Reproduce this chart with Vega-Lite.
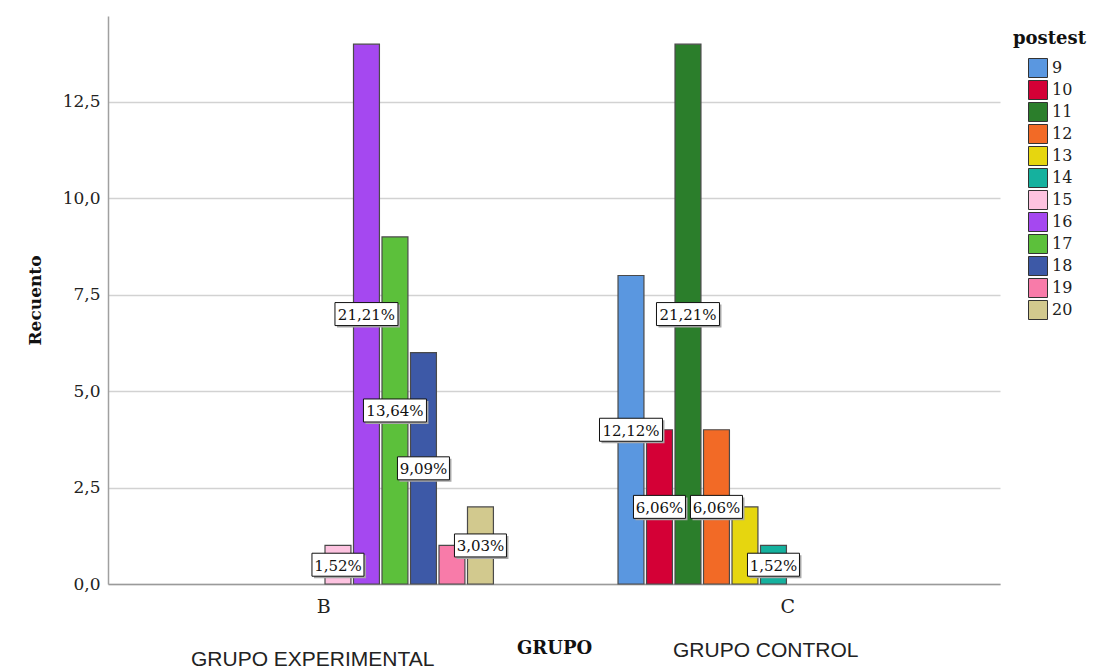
{
  "$schema": "https://vega.github.io/schema/vega-lite/v6.json",
  "width": 892,
  "height": 568,
  "autosize": {"type": "none"},
  "padding": {"left": 108, "top": 16, "right": 96, "bottom": 88},
  "background": "white",
  "config": {"view": {"stroke": null}, "font": "DejaVu Serif"},
  "datasets": {
    "counts": [
      {"GRUPO": "B", "postest": 15, "count": 1, "pct": "1,52%"},
      {"GRUPO": "B", "postest": 16, "count": 14, "pct": "21,21%"},
      {"GRUPO": "B", "postest": 17, "count": 9, "pct": "13,64%"},
      {"GRUPO": "B", "postest": 18, "count": 6, "pct": "9,09%"},
      {"GRUPO": "B", "postest": 19, "count": 1, "pct": null},
      {"GRUPO": "B", "postest": 20, "count": 2, "pct": "3,03%"},
      {"GRUPO": "C", "postest": 9, "count": 8, "pct": "12,12%"},
      {"GRUPO": "C", "postest": 10, "count": 4, "pct": "6,06%"},
      {"GRUPO": "C", "postest": 11, "count": 14, "pct": "21,21%"},
      {"GRUPO": "C", "postest": 12, "count": 4, "pct": "6,06%"},
      {"GRUPO": "C", "postest": 13, "count": 2, "pct": null},
      {"GRUPO": "C", "postest": 14, "count": 1, "pct": "1,52%"}
    ],
    "groups": [{"GRUPO": "B"}, {"GRUPO": "C"}]
  },
  "layer": [
    {
      "data": {"name": "counts"},
      "encoding": {
        "x": {
          "field": "GRUPO", "type": "nominal",
          "scale": {"type": "band", "domain": ["B", "C"], "paddingInner": 0.263, "paddingOuter": 0.0927, "align": 0.52},
          "axis": {
            "orient": "bottom", "labelAngle": 0, "ticks": false, "grid": false,
            "domainColor": "#9a9a9a", "domainWidth": 1.5,
            "labelFont": "DejaVu Serif", "labelFontSize": 19, "labelColor": "#222222", "labelPadding": 13,
            "title": "GRUPO", "titleFont": "DejaVu Serif", "titleFontWeight": "bold", "titleFontSize": 18,
            "titleColor": "#111111", "titlePadding": 23
          }
        },
        "xOffset": {
          "field": "postest", "type": "nominal",
          "scale": {"domain": [9, 10, 11, 12, 13, 14, 15, 16, 17, 18, 19, 20], "paddingInner": 0.09, "paddingOuter": 0.045}
        },
        "y": {
          "field": "count", "type": "quantitative", "title": "Recuento",
          "scale": {"domain": [0, 14.73], "nice": false, "zero": true},
          "axis": {
            "values": [0, 2.5, 5, 7.5, 10, 12.5],
            "labelExpr": "replace(format(datum.value, '.1f'), '.', ',')",
            "ticks": false, "grid": true, "gridColor": "#d2d2d2", "gridWidth": 1.5,
            "domainColor": "#a0a0a0", "domainWidth": 1.5,
            "labelFont": "DejaVu Serif", "labelFontSize": 17, "labelColor": "#222222", "labelPadding": 8,
            "titleFont": "DejaVu Serif", "titleFontWeight": "bold", "titleFontSize": 17, "titleColor": "#111111",
            "titlePadding": 18
          }
        }
      },
      "layer": [
        {
          "mark": {"type": "bar", "stroke": "#4a4a4a", "strokeWidth": 1.2},
          "encoding": {
            "color": {
              "field": "postest", "type": "nominal",
              "scale": {
                "domain": [9, 10, 11, 12, 13, 14, 15, 16, 17, 18, 19, 20],
                "range": ["#5a97e0", "#d40036", "#2b7e2b", "#f26a26", "#e6d60f", "#15b19e", "#fdc3e0", "#a548f0", "#5cc03b", "#3d59a7", "#f87ba9", "#d2c98e"]
              },
              "legend": {
                "orient": "none", "legendX": 905, "legendY": 14,
                "title": "postest", "titleFont": "DejaVu Serif", "titleFontWeight": "bold", "titleFontSize": 18,
                "titleColor": "#111111", "titlePadding": 10,
                "labelFont": "DejaVu Serif", "labelFontSize": 16, "labelColor": "#222222", "labelOffset": 4,
                "symbolType": "square", "symbolSize": 361, "symbolStrokeColor": "#333333", "symbolStrokeWidth": 1,
                "symbolOpacity": 1, "symbolOffset": 15, "rowPadding": -2
              }
            }
          }
        },
        {
          "transform": [
            {"filter": "datum.pct != null && length(datum.pct) == 5"},
            {"calculate": "datum.count / 2", "as": "mid"}
          ],
          "mark": {"type": "point", "shape": "M-0.923,-0.365L1.077,-0.365L1.077,0.519L-0.923,0.519Z", "size": 2704, "filled": true, "fill": "#a8a8a8", "strokeWidth": 0, "opacity": 1},
          "encoding": {"y": {"field": "mid", "type": "quantitative", "title": "Recuento"}}
        },
        {
          "transform": [
            {"filter": "datum.pct != null && length(datum.pct) == 6"},
            {"calculate": "datum.count / 2", "as": "mid"}
          ],
          "mark": {"type": "point", "shape": "M-0.937,-0.302L1.063,-0.302L1.063,0.429L-0.937,0.429Z", "size": 3969, "filled": true, "fill": "#a8a8a8", "strokeWidth": 0, "opacity": 1},
          "encoding": {"y": {"field": "mid", "type": "quantitative", "title": "Recuento"}}
        },
        {
          "transform": [
            {"filter": "datum.pct != null && length(datum.pct) == 5"},
            {"calculate": "datum.count / 2", "as": "mid"}
          ],
          "mark": {"type": "point", "shape": "M-1,-0.442L1,-0.442L1,0.442L-1,0.442Z", "size": 2704, "filled": true, "fill": "white", "stroke": "#111111", "strokeWidth": 1, "opacity": 1},
          "encoding": {"y": {"field": "mid", "type": "quantitative", "title": "Recuento"}}
        },
        {
          "transform": [
            {"filter": "datum.pct != null && length(datum.pct) == 6"},
            {"calculate": "datum.count / 2", "as": "mid"}
          ],
          "mark": {"type": "point", "shape": "M-1,-0.365L1,-0.365L1,0.365L-1,0.365Z", "size": 3969, "filled": true, "fill": "white", "stroke": "#111111", "strokeWidth": 1, "opacity": 1},
          "encoding": {"y": {"field": "mid", "type": "quantitative", "title": "Recuento"}}
        },
        {
          "transform": [
            {"filter": "datum.pct != null"},
            {"calculate": "datum.count / 2", "as": "mid"}
          ],
          "mark": {"type": "text", "font": "DejaVu Serif", "fontSize": 15, "color": "#111111", "align": "center", "baseline": "middle", "dy": 1},
          "encoding": {
            "y": {"field": "mid", "type": "quantitative", "title": "Recuento"},
            "text": {"field": "pct", "type": "nominal"}
          }
        }
      ]
    },
    {
      "data": {"name": "groups"},
      "mark": {"type": "text"},
      "encoding": {
        "x": {
          "field": "GRUPO", "type": "nominal",
          "scale": {"type": "band", "domain": ["B", "C"], "paddingInner": 0.263, "paddingOuter": 0.0927, "align": 0.52},
          "axis": {
            "orient": "bottom", "labelAngle": 0, "ticks": false, "grid": false, "domain": false, "title": null,
            "labelExpr": "datum.value == 'B' ? 'GRUPO EXPERIMENTAL' : 'GRUPO CONTROL'",
            "labelFont": "Liberation Sans", "labelFontSize": 21, "labelColor": "#222222", "labelPadding": 55,
            "labelOverlap": false, "labelBound": false, "labelFlush": false, "labelLineHeight": 39, "labelLimit": 0,
            "labelOffset": {"condition": {"test": "datum.value == 'B'", "value": -11}, "value": -22},
            "labelBaseline": {"condition": {"test": "datum.value == 'B'", "value": "line-top"}, "value": "top"}
          }
        },
        "text": {"value": ""}
      }
    }
  ],
  "resolve": {"scale": {"x": "independent", "xOffset": "independent"}, "axis": {"x": "independent"}}
}
